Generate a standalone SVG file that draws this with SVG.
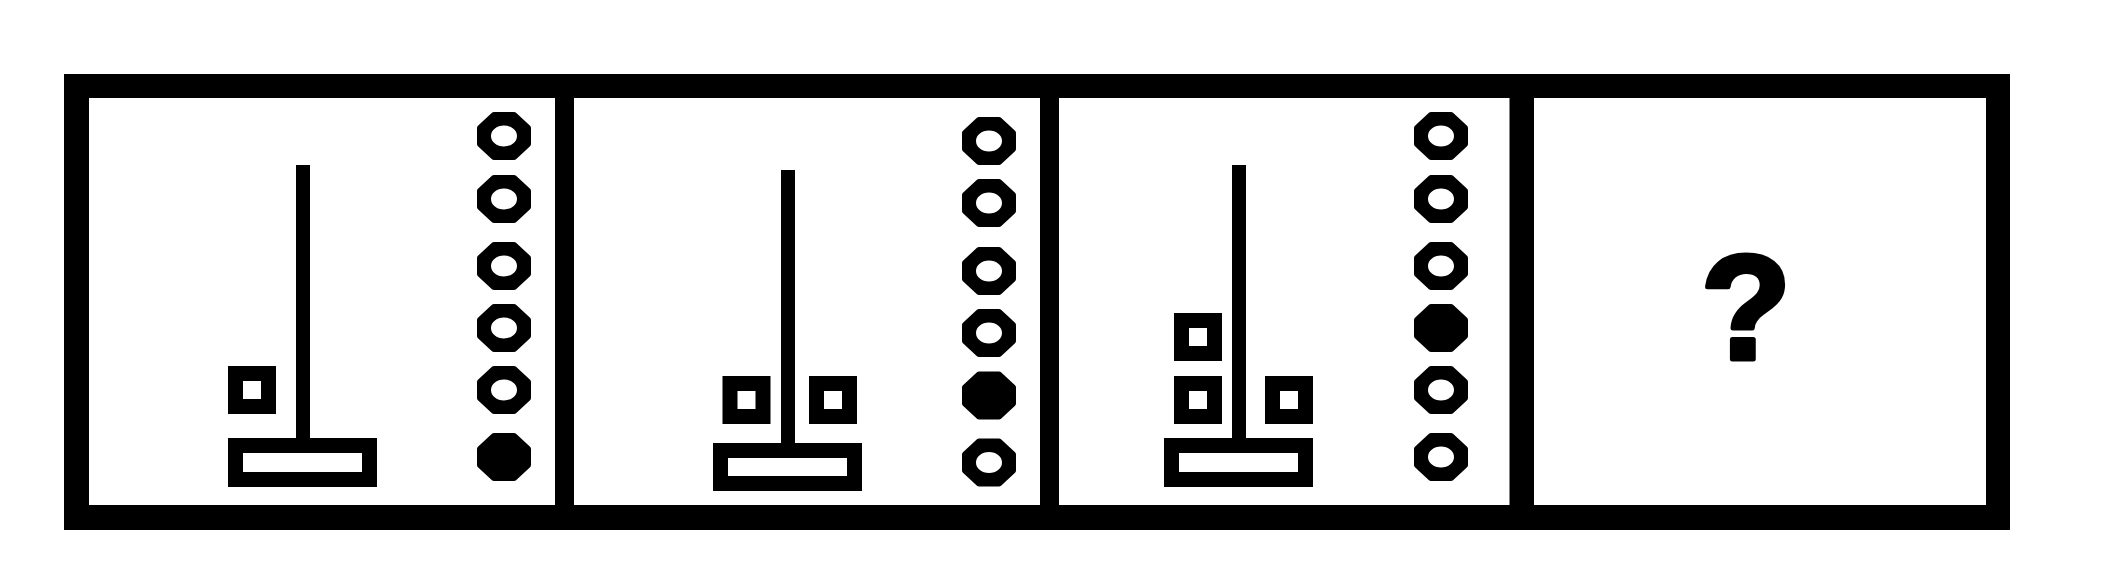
<svg xmlns="http://www.w3.org/2000/svg" xmlns:xlink="http://www.w3.org/1999/xlink" width="2116" height="572" viewBox="0 0 2116 572">
<style>
.panel{fill:#fff}
.blk{fill:#000}
.box{fill:none;stroke:#000;stroke-width:15}
.q{font-family:"Liberation Sans",Arial,sans-serif;font-weight:bold;font-size:148px;fill:#000;stroke:#000;stroke-width:5;stroke-linejoin:round}
</style>
<defs>
<path id="ring" fill="#000" fill-rule="evenodd" stroke="#000" stroke-width="6" stroke-linejoin="round" d="M-10,-21 L10,-21 L24,-8 L24,8 L10,21 L-10,21 L-24,8 L-24,-8 Z M-16,0 a16,13.5 0 1,0 32,0 a16,13.5 0 1,0 -32,0 Z"/>
<path id="dot" fill="#000" stroke="#000" stroke-width="6" stroke-linejoin="round" d="M-10,-21 L10,-21 L24,-8 L24,8 L10,21 L-10,21 L-24,8 L-24,-8 Z"/>
</defs>
<rect width="2116" height="572" fill="#fff"/>
<g id="frame">
<rect class="blk" x="64" y="74" width="1946" height="456"/>
</g>
<g id="panel1">
<rect class="panel" x="89" y="98" width="466" height="407"/>
<rect class="blk" x="296" y="165" width="14" height="276"/>
<rect class="box" x="235.5" y="445.5" width="134" height="34"/>
<rect class="box" x="235.5" y="373.5" width="33" height="33"/>
<use xlink:href="#ring" href="#ring" x="504" y="136"/>
<use xlink:href="#ring" href="#ring" x="504" y="199"/>
<use xlink:href="#ring" href="#ring" x="504" y="266"/>
<use xlink:href="#ring" href="#ring" x="504" y="328"/>
<use xlink:href="#ring" href="#ring" x="504" y="390"/>
<use xlink:href="#dot" href="#dot" x="504" y="457"/>
</g>
<g id="panel2">
<rect class="panel" x="574" y="98" width="466" height="407"/>
<rect class="blk" x="781" y="170" width="14" height="276"/>
<rect class="box" x="720.5" y="450.5" width="134" height="33"/>
<rect class="box" x="730" y="383.5" width="33" height="33"/>
<rect class="box" x="816.5" y="383.5" width="33" height="33"/>
<use xlink:href="#ring" href="#ring" x="989" y="141"/>
<use xlink:href="#ring" href="#ring" x="989" y="203"/>
<use xlink:href="#ring" href="#ring" x="989" y="271"/>
<use xlink:href="#ring" href="#ring" x="989" y="333"/>
<use xlink:href="#dot" href="#dot" x="989" y="395.5"/>
<use xlink:href="#ring" href="#ring" x="989" y="462.5"/>
</g>
<g id="panel3">
<rect class="panel" x="1059" y="98" width="450.5" height="407"/>
<rect class="blk" x="1232" y="165" width="14" height="276"/>
<rect class="box" x="1171.5" y="445.5" width="134" height="34"/>
<rect class="box" x="1181.5" y="320.5" width="33" height="33"/>
<rect class="box" x="1181.5" y="383.5" width="33" height="33"/>
<rect class="box" x="1272.5" y="383.5" width="33" height="33"/>
<use xlink:href="#ring" href="#ring" x="1441" y="136"/>
<use xlink:href="#ring" href="#ring" x="1441" y="199"/>
<use xlink:href="#ring" href="#ring" x="1441" y="266"/>
<use xlink:href="#dot" href="#dot" x="1441" y="328"/>
<use xlink:href="#ring" href="#ring" x="1441" y="390"/>
<use xlink:href="#ring" href="#ring" x="1441" y="457"/>
</g>
<g id="panel4">
<rect class="panel" x="1534" y="98" width="452" height="407"/>
<text class="q" x="1746" y="359" text-anchor="middle">?</text>
</g>
</svg>
